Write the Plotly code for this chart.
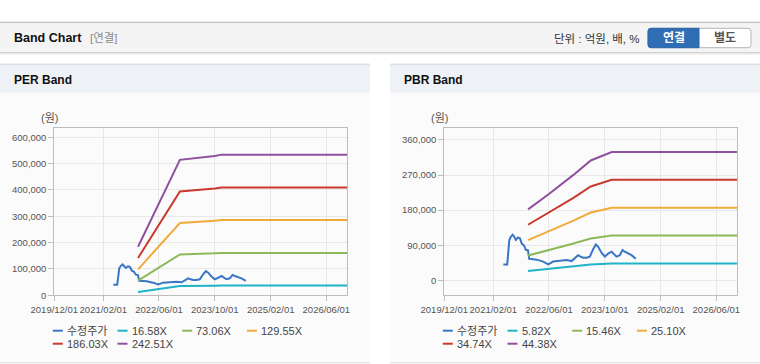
import plotly.graph_objects as go

# ---------------- data ----------------
price_name = "수정주가"
price_dates = ["2021-04-29", "2021-06-02", "2021-06-20", "2021-07-02", "2021-07-19", "2021-07-31",
               "2021-08-17", "2021-09-04", "2021-09-21", "2021-10-08", "2021-10-26", "2021-11-12",
               "2021-11-30", "2021-12-11", "2021-12-29", "2022-02-14", "2022-04-12", "2022-05-26",
               "2022-07-08", "2022-09-05", "2022-11-02", "2022-12-16", "2023-01-14", "2023-02-11",
               "2023-03-04", "2023-03-27", "2023-04-25", "2023-05-24", "2023-06-22", "2023-07-16",
               "2023-08-05", "2023-09-03", "2023-10-02", "2023-10-31", "2023-11-30", "2023-12-20",
               "2024-01-12", "2024-02-10", "2024-03-04", "2024-03-24", "2024-04-22", "2024-05-22",
               "2024-06-28"]
price_values = [40500, 40500, 102500, 111000, 117000, 113000,
                103700, 110000, 107700, 93500, 89700, 78300,
                77000, 55000, 54500, 53000, 48000, 41000,
                48000, 50500, 51800, 49300, 57000, 64500,
                60800, 58000, 58000, 60800, 79700, 92000,
                86000, 70800, 60800, 68400, 73300, 67000,
                60800, 64500, 77500, 73300, 68400, 64500,
                55000]

per_dates = ["2021-12-01", "2022-12-01", "2023-10-01", "2023-12-01", "2026-12-01"]
per_names = ["16.58X", "73.06X", "129.55X", "186.03X", "242.51X"]
per_1658 = [12600, 35100, 36200, 37000, 37000]
per_7306 = [55600, 154900, 159300, 160900, 160900]
per_12955 = [98600, 274600, 282600, 285800, 285800]
per_18603 = [141600, 394400, 405700, 409200, 409200]
per_24251 = [184500, 514100, 528900, 534000, 534000]

pbr_dates = ["2021-12-01", "2022-06-01", "2023-01-01", "2023-06-01", "2023-12-01", "2026-12-01"]
pbr_names = ["5.82X", "15.46X", "25.10X", "34.74X", "44.38X"]
pbr_582 = [23900, 29000, 35500, 40300, 43200, 43200]
pbr_1546 = [63400, 77100, 94200, 107100, 114700, 114700]
pbr_2510 = [102900, 125200, 153000, 173900, 186200, 186200]
pbr_3474 = [142500, 173300, 211700, 240700, 257700, 257700]
pbr_4438 = [182000, 221500, 270400, 307500, 329200, 329200]

x_tickvals = ["2019-12-01", "2021-02-01", "2022-06-01", "2023-10-01", "2025-02-01", "2026-06-01"]
x_ticktext = ["2019/12/01", "2021/02/01", "2022/06/01", "2023/10/01", "2025/02/01", "2026/06/01"]

# ---------------- style ----------------
W, H = 760, 364
price_color = "#3a76c4"
band_colors = ["#1fb3c6", "#8db85a", "#f2aa3a", "#c9392e", "#8f519f"]
FONT = "Liberation Sans, Arial, Noto Sans CJK KR, sans-serif"


def px(x):
    return x / W


def py(y):
    return 1 - y / H


fig = go.Figure()

per_series = [per_1658, per_7306, per_12955, per_18603, per_24251]
pbr_series = [pbr_582, pbr_1546, pbr_2510, pbr_3474, pbr_4438]

fig.add_trace(go.Scatter(x=price_dates, y=price_values, mode="lines", name=price_name,
                         line=dict(color=price_color, width=2), xaxis="x", yaxis="y"))
for name, vals, col in zip(per_names, per_series, band_colors):
    fig.add_trace(go.Scatter(x=per_dates, y=vals, mode="lines", name=name,
                             line=dict(color=col, width=2), xaxis="x", yaxis="y"))

fig.add_trace(go.Scatter(x=price_dates, y=price_values, mode="lines", name=price_name,
                         line=dict(color=price_color, width=2), xaxis="x2", yaxis="y2"))
for name, vals, col in zip(pbr_names, pbr_series, band_colors):
    fig.add_trace(go.Scatter(x=pbr_dates, y=vals, mode="lines", name=name,
                             line=dict(color=col, width=2), xaxis="x2", yaxis="y2"))

plot_top, plot_bot = 128.3, 295.3
ydom = [py(plot_bot), py(plot_top)]
left_plot = (54.3, 347.3)
right_plot = (444.3, 737.3)

xcommon = dict(type="date", range=["2019-12-01", "2026-12-01"], tickvals=x_tickvals, ticktext=x_ticktext,
               tickangle=0, automargin=False,
               showgrid=True, gridcolor="#e8e8e8", showline=True, linecolor="#bdbdbd", mirror=True,
               ticks="outside", ticklen=5, tickcolor="#bdbdbd",
               tickfont=dict(family=FONT, size=9.5, color="#555555"), fixedrange=True)
ycommon = dict(showgrid=True, gridcolor="#e8e8e8", showline=True, linecolor="#bdbdbd", mirror=True,
               ticks="outside", ticklen=5, tickcolor="#bdbdbd", zeroline=False, tickformat=",",
               automargin=False,
               tickfont=dict(family=FONT, size=9.5, color="#555555"), fixedrange=True)

fig.update_layout(
    width=W, height=H, autosize=False,
    margin=dict(l=0, r=0, t=0, b=0, pad=0, autoexpand=False),
    paper_bgcolor="#ffffff", plot_bgcolor="#ffffff",
    showlegend=False, hovermode=False,
    xaxis=dict(domain=[px(left_plot[0]), px(left_plot[1])], anchor="y", **xcommon),
    yaxis=dict(domain=ydom, anchor="x", range=[0, 634000], tick0=0, dtick=100000, **ycommon),
    xaxis2=dict(domain=[px(right_plot[0]), px(right_plot[1])], anchor="y2", **xcommon),
    yaxis2=dict(domain=ydom, anchor="x2", range=[-38500, 390000], tick0=0, dtick=90000, **ycommon),
)

shapes = []
ann = []


def rect(x0, y0, x1, y1, fill, line=None, lw=0, layer="below"):
    shapes.append(dict(type="rect", xref="paper", yref="paper", x0=px(x0), x1=px(x1), y0=py(y1), y1=py(y0),
                       fillcolor=fill, line=dict(width=lw, color=line or fill), layer=layer))


def hline(x0, x1, y, color, w=1, layer="below"):
    shapes.append(dict(type="line", xref="paper", yref="paper", x0=px(x0), x1=px(x1), y0=py(y), y1=py(y),
                       line=dict(color=color, width=w), layer=layer))


def text(x, y, s, size=12, color="#222", bold=False, xanchor="left"):
    if bold:
        s = "<b>" + s + "</b>"
    ann.append(dict(xref="paper", yref="paper", x=px(x), y=py(y), text=s, showarrow=False,
                    xanchor=xanchor, yanchor="middle", font=dict(family=FONT, size=size, color=color)))


def rounded(x0, y0, x1, y1, r, fill, line, lw, left=True, right=True):
    X0, X1, Y0, Y1 = px(x0), px(x1), py(y0), py(y1)
    rx, ry = r / W, r / H
    p = []
    if left:
        p.append(f"M{X0 + rx},{Y0}")
    else:
        p.append(f"M{X0},{Y0}")
    if right:
        p.append(f"L{X1 - rx},{Y0} Q{X1},{Y0} {X1},{Y0 - ry} L{X1},{Y1 + ry} Q{X1},{Y1} {X1 - rx},{Y1}")
    else:
        p.append(f"L{X1},{Y0} L{X1},{Y1}")
    if left:
        p.append(f"L{X0 + rx},{Y1} Q{X0},{Y1} {X0},{Y1 + ry} L{X0},{Y0 - ry} Q{X0},{Y0} {X0 + rx},{Y0} Z")
    else:
        p.append(f"L{X0},{Y1} Z")
    shapes.append(dict(type="path", xref="paper", yref="paper", path=" ".join(p), fillcolor=fill,
                       line=dict(color=line, width=lw), layer="above"))


# top header bar
rect(0, 22.5, W, 52.5, "#f4f4f4")
hline(0, W, 22.3, "#b5b5b5", 1)
hline(0, W, 52.8, "#c2c2c2", 1)
hline(0, W, 54.0, "#e6e6e6", 1.2)
text(12, 38.5, "Band Chart", 12.5, "#111", bold=True)
text(88, 38.5, "[연결]", 11.5, "#8a8a8a")
text(642, 38.5, "단위 : 억원, 배, %", 11.5, "#333", xanchor="right")
rounded(648, 28.3, 751, 47.7, 3, "#ffffff", "#b4b4b4", 1)
rounded(648, 28.3, 699, 47.7, 3, "#2f6db4", "#2a64a8", 1, left=True, right=False)
text(673.5, 38.5, "연결", 12, "#ffffff", bold=True, xanchor="center")
text(725, 38.5, "별도", 12, "#555555", bold=True, xanchor="center")

# panels
for (x0, x1, title, plot, names) in [(0, 370, "PER Band", left_plot, per_names),
                                      (390, 760, "PBR Band", right_plot, pbr_names)]:
    rect(x0, 64, x1, 363, "#fbfbfb")
    rect(x0, 64.5, x1, 92.5, "#eef2f7")
    hline(x0, x1, 64.2, "#d6d6d6", 1)
    hline(x0, x1, 362.8, "#dcdcdc", 1)
    text(x0 + 12, 80, title, 12, "#111", bold=True)
    text(plot[0] - 4.5, 118, "(원)", 11, "#555555", xanchor="center")
    # legend
    items = [(price_name, price_color)] + list(zip(names, band_colors))
    for i, (nm, col) in enumerate(items):
        row, colno = divmod(i, 4)
        sx = plot[0] - 1.5 + colno * 64.7
        sy = 330.7 + row * 13
        shapes.append(dict(type="line", xref="paper", yref="paper", x0=px(sx), x1=px(sx + 10),
                           y0=py(sy), y1=py(sy), line=dict(color=col, width=2), layer="above"))
        text(sx + 12, sy, nm, 11, "#444444")

fig.update_layout(shapes=shapes, annotations=ann)
fig.write_html("out.html", config={"displayModeBar": False, "staticPlot": True},
               post_script="document.body.style.margin='0';document.body.style.padding='0';"
                           "document.body.style.overflow='hidden';")
